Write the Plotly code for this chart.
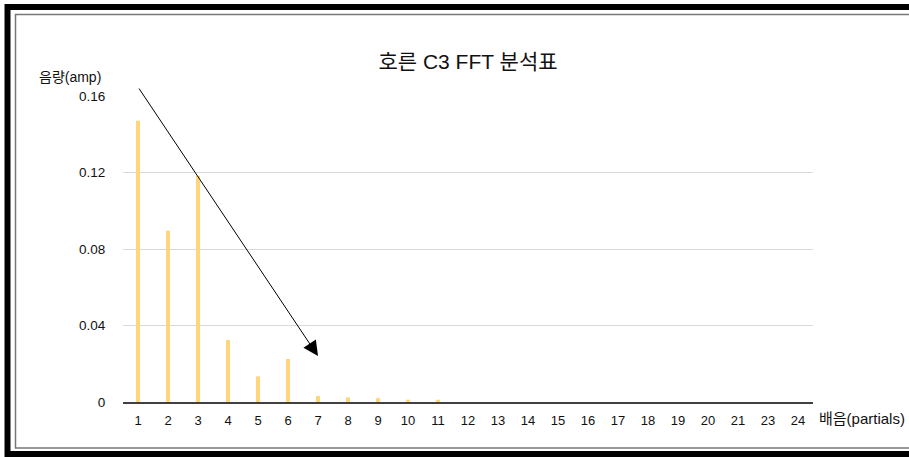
import plotly.graph_objects as go

# ---- data ----
partials = ["1", "2", "3", "4", "5", "6", "7", "8", "9", "10", "11", "12",
            "13", "14", "15", "16", "17", "18", "19", "20", "21", "23", "24"]
amplitudes = [0.147, 0.0896, 0.1182, 0.0324, 0.0134, 0.0225, 0.0031, 0.0024,
              0.0020, 0.0012, 0.0012, 0, 0, 0, 0, 0, 0, 0, 0, 0, 0, 0, 0]
y_ticks = [0, 0.04, 0.08, 0.12, 0.16]
y_ticklabels = ["0", "0.04", "0.08", "0.12", "0.16"]
title_text = "호른 C3 FFT 분석표"
y_title = "음량(amp)"
x_title = "배음(partials)"
# arrow (trend) from partial 1 down to partial 7
arrow_tail = ("1", 0.1647)
arrow_head = ("7", 0.024)

W, H = 909, 457
ML, MR, MT, MB = 123, 96, 96, 55
PW, PH = W - ML - MR, H - MT - MB

FONT = "Liberation Sans, Arial, Noto Sans CJK KR, sans-serif"


def px(x):
    return (x - ML) / PW


def py(y):
    return (H - MB - y) / PH


fig = go.Figure()
fig.add_trace(go.Bar(
    x=partials, y=amplitudes, width=0.13,
    marker=dict(color="#FFD47A", line=dict(width=0)),
    hoverinfo="x+y",
))

fig.update_layout(
    width=W, height=H,
    margin=dict(l=ML, r=MR, t=MT, b=MB, pad=0),
    paper_bgcolor="white", plot_bgcolor="white",
    font=dict(family=FONT, size=12, color="#111"),
    showlegend=False,
    title=dict(text=title_text, x=0.5, xref="paper", xanchor="center",
               y=1 - 62 / H, yref="container", yanchor="middle",
               font=dict(family=FONT, size=21, color="#111")),
)

fig.update_xaxes(
    type="category", range=[-0.5, len(partials) - 0.5],
    showgrid=False, showline=True, linecolor="#404040", linewidth=2,
    ticks="outside", ticklen=5, tickcolor="rgba(0,0,0,0)",
    tickfont=dict(family=FONT, size=13, color="#111"),
    zeroline=False, fixedrange=True,
)
fig.update_yaxes(
    range=[0, 0.16], tickvals=y_ticks, ticktext=y_ticklabels,
    showgrid=True, gridcolor="#D9D9D9", gridwidth=1,
    showline=False, zeroline=False,
    ticks="outside", ticklen=14, tickcolor="rgba(0,0,0,0)",
    tickfont=dict(family=FONT, size=13.5, color="#111"),
    fixedrange=True,
)

# axis titles
fig.add_annotation(text=y_title, xref="paper", yref="paper",
                   x=px(70), y=py(77), xanchor="center", yanchor="middle",
                   showarrow=False, font=dict(family=FONT, size=14, color="#111"))
fig.add_annotation(text=x_title, xref="paper", yref="paper",
                   x=px(817), y=py(418), xanchor="left", yanchor="middle",
                   showarrow=False, font=dict(family=FONT, size=15, color="#111"))

# trend arrow
fig.add_annotation(text="", x=partials.index(arrow_head[0]), y=arrow_head[1],
                   xref="x", yref="y",
                   ax=partials.index(arrow_tail[0]), ay=arrow_tail[1],
                   axref="x", ayref="y",
                   showarrow=True, arrowhead=2, arrowsize=3, arrowwidth=1,
                   arrowcolor="black", standoff=0)

# decorative frame
fig.add_shape(type="rect", xref="paper", yref="paper",
              x0=px(7.5), x1=px(1100), y0=py(454), y1=py(7),
              line=dict(color="black", width=6), fillcolor="rgba(0,0,0,0)",
              layer="above")
fig.add_shape(type="rect", xref="paper", yref="paper",
              x0=px(15.5), x1=px(1100), y0=py(448), y1=py(14.5),
              line=dict(color="#777777", width=1.5), fillcolor="rgba(0,0,0,0)",
              layer="above")

fig.write_html("out.html", config={"displayModeBar": False},
               post_script="document.body.style.margin='0';document.body.style.overflow='hidden';")
